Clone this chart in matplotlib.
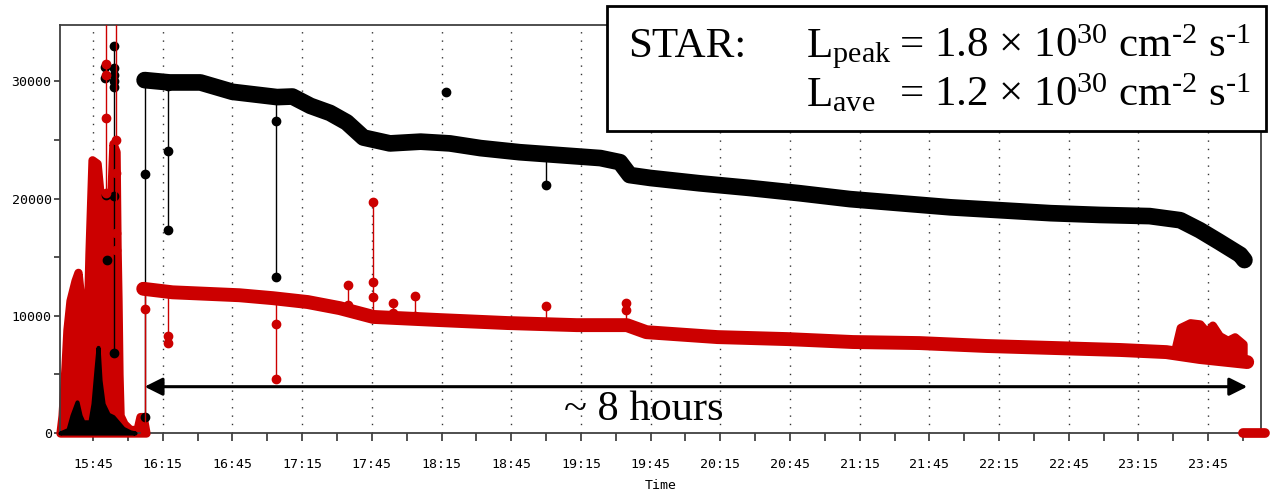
import matplotlib.pyplot as plt
from matplotlib.patches import Rectangle
from matplotlib.ticker import FixedLocator

plt.rcParams['mathtext.fontset'] = 'custom'
plt.rcParams['mathtext.rm'] = 'Liberation Serif'
plt.rcParams['mathtext.it'] = 'Liberation Serif:italic'

RED = '#cc0000'
BLACK = '#000000'

# time axis in decimal hours, luminosity counts on y
tick_hours = [15.75, 16.25, 16.75, 17.25, 17.75, 18.25, 18.75, 19.25, 19.75,
              20.25, 20.75, 21.25, 21.75, 22.25, 22.75, 23.25, 23.75]
tick_labels = ['15:45', '16:15', '16:45', '17:15', '17:45', '18:15', '18:45',
               '19:15', '19:45', '20:15', '20:45', '21:15', '21:45', '22:15',
               '22:45', '23:15', '23:45']
minor_hours = [16.0, 16.5, 17.0, 17.5, 18.0, 18.5, 19.0, 19.5, 20.0, 20.5,
               21.0, 21.5, 22.0, 22.5, 23.0, 23.5, 24.0]

# physics store, black (upper) ring
black_t = [16.12, 16.30, 16.52, 16.75, 17.07, 17.18, 17.31, 17.45, 17.57,
           17.69, 17.88, 18.10, 18.31, 18.53, 18.81, 19.10, 19.39, 19.53,
           19.60, 19.75, 20.10, 20.46, 20.82, 21.18, 21.54, 21.90, 22.26,
           22.62, 22.97, 23.33, 23.55, 23.69, 23.83, 23.98, 24.01]
black_v = [30100, 29900, 29900, 29100, 28650, 28700, 27900, 27300, 26500,
           25200, 24700, 24850, 24700, 24300, 23950, 23700, 23450, 23100,
           22000, 21750, 21300, 20900, 20450, 19950, 19600, 19250, 19000,
           18750, 18600, 18500, 18150, 17300, 16300, 15200, 14750]

# red (lower) ring
red_t = [16.11, 16.32, 16.80, 17.04, 17.29, 17.52, 17.76, 18.24, 18.72,
         19.22, 19.58, 19.72, 20.23, 20.73, 21.20, 21.68, 22.16, 22.64,
         23.12, 23.45, 23.69, 24.03]
red_v = [12300, 12000, 11750, 11500, 11170, 10650, 9900, 9630, 9380,
         9200, 9200, 8600, 8180, 8010, 7760, 7670, 7420, 7250,
         7080, 6900, 6480, 6050]

# noisy stretch of the red ring near the end of the store
red_noise_t = [23.51, 23.55, 23.62, 23.69, 23.74, 23.78, 23.83, 23.89, 23.94, 24.00]
red_noise_hi = [7000, 9000, 9400, 9300, 8600, 9200, 8300, 7900, 8200, 7600]
red_noise_lo = [6900, 6800, 6700, 6600, 6500, 6450, 6350, 6250, 6150, 6050]

# injection / tuning burst before the store
burst_red_t = [15.513, 15.528, 15.549, 15.563, 15.585, 15.621, 15.642, 15.657,
               15.671, 15.693, 15.707, 15.721, 15.743, 15.779, 15.800, 15.822,
               15.850, 15.872, 15.893, 15.915, 15.922, 15.929, 15.936, 15.944,
               15.972, 16.015, 16.066, 16.087, 16.109, 16.130]
burst_red_v = [0, 1500, 5600, 8800, 11300, 13000, 13700, 12000,
               9600, 10200, 8500, 15300, 23300, 23000, 20400, 20000,
               19500, 18400, 24700, 24000, 16000, 11300, 5000, 1500,
               800, 300, 300, 1400, 1400, 0]
burst_black_t = [15.513, 15.571, 15.599, 15.635, 15.657, 15.678, 15.728, 15.750,
                 15.772, 15.786, 15.800, 15.822, 15.858, 15.893, 15.929, 15.965,
                 16.015, 16.051]
burst_black_v = [0, 300, 1500, 2650, 1500, 950, 950, 2500,
                 5500, 7300, 4500, 2500, 1600, 1400, 900, 400,
                 100, 0]

# isolated readings: time and the values joined by a vertical line
black_spike_t = [15.90, 16.12, 16.29, 17.06, 19.00]
black_spike_v = [[6800, 20200, 29500, 30000, 30500, 31100, 33000],
                 [1360, 22100, 30100],
                 [29600, 24050, 17300],
                 [28600, 26600, 13300],
                 [23700, 21140]]
black_dot_t = [15.835, 15.835, 15.845, 15.85, 18.28]
black_dot_v = [31200, 30300, 20300, 14750, 29070]
red_spike_t = [15.84, 15.915, 16.12, 16.29, 17.06, 17.58, 17.76, 17.90,
               18.06, 19.00, 19.57]
red_spike_v = [[20500, 26900, 30500, 31500, 40000],
               [15600, 17100, 22200, 25000, 40000],
               [0, 10600, 12300],
               [12000, 8270, 7670],
               [11450, 9290, 4600],
               [10900, 12600],
               [10000, 11600, 12900, 19700],
               [10200, 11100],
               [10000, 11700],
               [9350, 10830],
               [9200, 10500, 11100]]
# ring signal at zero after the beam dump
dump_t = [24.00, 24.06, 24.11, 24.16]
dump_v = [0, 0, 0, 0]

fig = plt.figure(figsize=(12.72, 4.91), dpi=100)
ax = fig.add_axes([60 / 1272, 58 / 491, 1201 / 1272, 408 / 491])

ax.fill_between(burst_red_t, 0, burst_red_v, color=RED, lw=6,
                joinstyle='round', zorder=2, clip_on=False)
ax.fill_between(burst_black_t, 0, burst_black_v, color=BLACK, lw=3,
                joinstyle='round', zorder=3, clip_on=False)

ax.plot(black_t, black_v, color=BLACK, lw=12, solid_capstyle='round',
        solid_joinstyle='round', zorder=3)
for t, vals in zip(black_spike_t, black_spike_v):
    ax.plot([t] * len(vals), vals, '-o', color=BLACK, lw=1, ms=6, zorder=3)
ax.plot(black_dot_t, black_dot_v, 'o', color=BLACK, ms=6, zorder=3)

ax.plot(red_t, red_v, color=RED, lw=10, solid_capstyle='round',
        solid_joinstyle='round', zorder=4)
ax.fill_between(red_noise_t, red_noise_lo, red_noise_hi, color=RED, lw=6,
                joinstyle='round', zorder=4)
for t, vals in zip(red_spike_t, red_spike_v):
    ax.plot([t] * len(vals), vals, '-o', color=RED, lw=1, ms=6, zorder=4)
ax.plot(dump_t, dump_v, '-', color=RED, lw=7, solid_capstyle='round',
        zorder=4, clip_on=False)

ax.set_xlim(15.513, 24.129)
ax.set_ylim(0, 34800)

ax.xaxis.set_major_locator(FixedLocator(tick_hours))
ax.set_xticklabels(tick_labels)
ax.xaxis.set_minor_locator(FixedLocator(minor_hours))
ax.set_yticks([0, 10000, 20000, 30000])
ax.yaxis.set_minor_locator(FixedLocator([5000, 15000, 25000]))

for lab in ax.get_xticklabels() + ax.get_yticklabels():
    lab.set_family('DejaVu Sans Mono')
    lab.set_fontsize(9.5)
ax.tick_params(axis='x', which='both', length=6, width=1.2, color='#333333', pad=12)
ax.tick_params(axis='y', which='both', length=4, width=1.2, color='#333333', pad=2)
for s in ax.spines.values():
    s.set_color('#404040')
    s.set_linewidth(1.3)

ax.grid(axis='x', which='major', color='#333333', linestyle=(0, (1, 5)), linewidth=1.0)
ax.set_axisbelow(True)
ax.set_xlabel('Time', family='DejaVu Sans Mono', fontsize=9.5, labelpad=6)

# store length arrow
ax.annotate('', xy=(16.12, 3950), xytext=(24.03, 3950),
            arrowprops=dict(arrowstyle='<|-|>,head_length=0.4,head_width=0.2',
                            lw=2.2, color='k', mutation_scale=27,
                            shrinkA=0, shrinkB=0), zorder=6)
ax.text(19.70, 1100, '~ 8 hours', family='Liberation Serif', fontsize=30.5,
        ha='center', va='baseline', zorder=6)

# luminosity summary box
W, H = 1272, 491
fig.add_artist(Rectangle((607 / W, 1 - 131 / H), 659 / W, 125 / H,
                         transform=fig.transFigure, facecolor='white',
                         edgecolor='black', lw=2, zorder=10))
txt = dict(family='Liberation Serif', fontsize=31, va='baseline', zorder=11)
fig.text(628 / W, 1 - 57 / H, 'STAR:', **txt)
fig.text(806 / W, 1 - 57 / H, r'L$_{\mathrm{peak}}$', **txt)
fig.text(899 / W, 1 - 57 / H, r'= 1.8 × 10$^{30}$ cm$^{\text{-2}}$ s$^{\text{-1}}$', **txt)
fig.text(806 / W, 1 - 106 / H, r'L$_{\mathrm{ave}}$', **txt)
fig.text(899 / W, 1 - 106 / H, r'= 1.2 × 10$^{30}$ cm$^{\text{-2}}$ s$^{\text{-1}}$', **txt)

fig.savefig('out.png', dpi=100)
